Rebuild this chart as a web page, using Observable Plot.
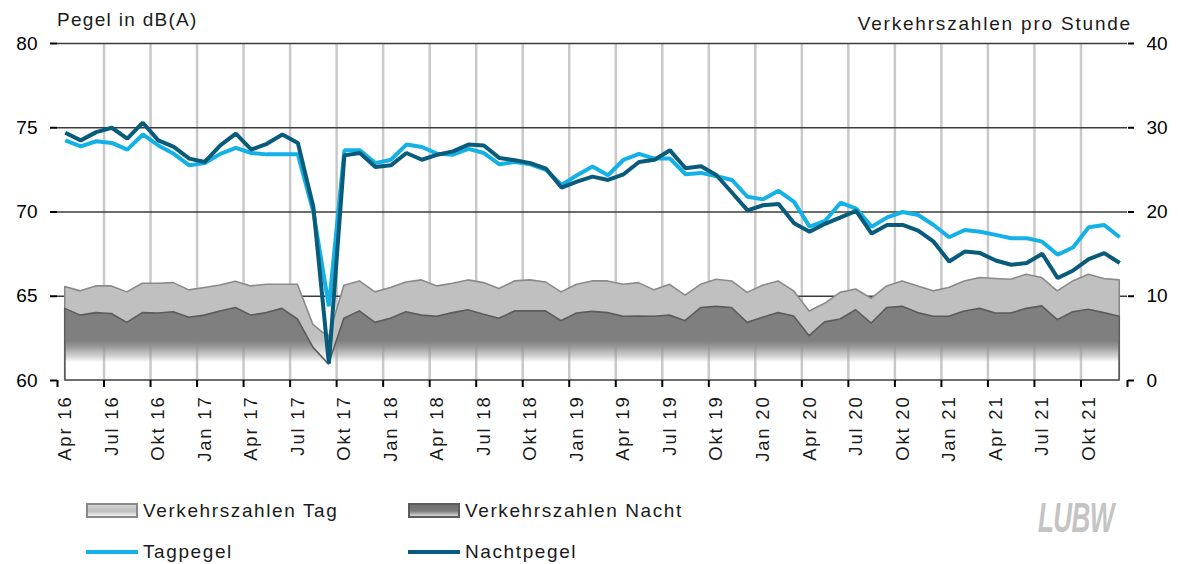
<!DOCTYPE html>
<html>
<head>
<meta charset="utf-8">
<script src="https://cdn.jsdelivr.net/npm/d3@7"></script>
<script src="https://cdn.jsdelivr.net/npm/@observablehq/plot@0.6"></script>
<style>
  body { margin: 0; background: #fff; font-family: "Liberation Sans", Arial, sans-serif; color: #1a1a1a; }
  #wrap { width: 1178px; position: relative; }
  #head { position: relative; height: 31px; }
  #head div { position: absolute; font-size: 19px; line-height: 15px; white-space: nowrap; }
  #leftTitle { left: 57px; top: 12px; letter-spacing: 1.3px; }
  #rightTitle { right: 46px; top: 16px; letter-spacing: 1.8px; }
  #legend { position: relative; height: 78px; }
  #legend .t { position: absolute; font-size: 19px; line-height: 19px; letter-spacing: 1.6px; white-space: nowrap; }
  #legend .box { position: absolute; width: 48px; height: 11px; }
  #legend .ln { position: absolute; width: 52px; height: 4px; }
  #logo { position: absolute; left: 1038px; top: 11px; font-size: 42px; line-height: 42px; font-weight: bold; font-style: italic;
          color: #c4c4c4; transform: scaleX(0.62); transform-origin: left top; letter-spacing: -1px; }
  svg g[aria-label="x-axis tick label"] text { letter-spacing: 1.8px; }
</style>
</head>
<body>
<div id="wrap">
  <div id="head">
    <div id="leftTitle">Pegel in dB(A)</div>
    <div id="rightTitle">Verkehrszahlen pro Stunde</div>
  </div>
  <div id="chart"></div>
  <div id="legend"></div>
</div>
<script>
// ---- data ----
const months = [
  "Apr 16","Mai 16","Jun 16","Jul 16","Aug 16","Sep 16","Okt 16","Nov 16","Dez 16",
  "Jan 17","Feb 17","Mrz 17","Apr 17","Mai 17","Jun 17","Jul 17","Aug 17","Sep 17","Okt 17","Nov 17","Dez 17",
  "Jan 18","Feb 18","Mrz 18","Apr 18","Mai 18","Jun 18","Jul 18","Aug 18","Sep 18","Okt 18","Nov 18","Dez 18",
  "Jan 19","Feb 19","Mrz 19","Apr 19","Mai 19","Jun 19","Jul 19","Aug 19","Sep 19","Okt 19","Nov 19","Dez 19",
  "Jan 20","Feb 20","Mrz 20","Apr 20","Mai 20","Jun 20","Jul 20","Aug 20","Sep 20","Okt 20","Nov 20","Dez 20",
  "Jan 21","Feb 21","Mrz 21","Apr 21","Mai 21","Jun 21","Jul 21","Aug 21","Sep 21","Okt 21","Nov 21","Dez 21"
];
// Pegel in dB(A)
const tagpegel = [
  74.25,73.9,74.2,74.1,73.7,74.6,73.95,73.45,72.77,
  72.9,73.45,73.8,73.5,73.42,73.42,73.42,70.0,64.4,73.66,73.66,72.9,
  73.1,74.0,73.86,73.45,73.4,73.75,73.5,72.83,72.97,72.83,72.5,71.6,
  72.18,72.7,72.18,73.1,73.45,73.17,73.17,72.24,72.32,72.12,71.9,70.9,
  70.75,71.26,70.6,69.13,69.48,70.55,70.2,69.13,69.68,70.0,69.82,69.23,
  68.5,68.93,68.83,68.64,68.44,68.44,68.24,67.46,67.91,69.1,69.23,68.5
];
const nachtpegel = [
  74.7,74.25,74.74,75.0,74.35,75.3,74.25,73.86,73.17,
  72.97,73.95,74.65,73.7,74.05,74.6,74.1,70.3,61.0,73.36,73.5,72.67,
  72.77,73.5,73.1,73.4,73.6,74.0,73.95,73.2,73.07,72.9,72.58,71.45,
  71.8,72.1,71.9,72.24,72.97,73.1,73.66,72.6,72.71,72.18,71.14,70.1,
  70.4,70.47,69.33,68.83,69.3,69.68,70.07,68.72,69.23,69.23,68.9,68.24,
  67.06,67.65,67.56,67.12,66.87,66.97,67.52,66.08,66.53,67.2,67.56,66.97
];
// Verkehrszahlen pro Stunde (right axis)
const verkehrTag = [
  11.1,10.58,11.17,11.17,10.46,11.48,11.48,11.56,10.7,
  10.98,11.28,11.72,11.17,11.36,11.36,11.36,6.6,5.1,11.25,11.76,10.46,
  10.98,11.64,11.88,11.17,11.48,11.88,11.56,10.86,11.76,11.88,11.64,10.46,
  11.36,11.76,11.76,11.36,11.56,10.7,11.36,10.08,11.36,11.96,11.76,10.4,
  11.25,11.76,10.58,8.2,9.1,10.4,10.8,9.7,11.17,11.76,11.17,10.58,
  10.98,11.76,12.16,12.04,11.96,12.56,12.16,10.58,11.76,12.56,12.04,11.88
];
const verkehrNacht = [
  8.5,7.7,8.0,7.9,6.84,8.0,7.95,8.1,7.44,
  7.7,8.2,8.6,7.7,8.0,8.5,7.24,3.9,1.9,7.32,8.2,6.84,
  7.32,8.1,7.7,7.56,8.0,8.34,7.8,7.32,8.2,8.2,8.2,7.04,
  7.95,8.15,8.0,7.56,7.6,7.56,7.7,7.04,8.6,8.74,8.6,6.84,
  7.44,8.0,7.6,5.26,6.9,7.24,8.34,6.76,8.6,8.74,8.0,7.56,
  7.56,8.2,8.5,7.95,7.95,8.5,8.8,7.17,8.1,8.4,8.0,7.56
];
const pegelTicks = [60, 65, 70, 75, 80];
const verkehrTicks = [0, 10, 20, 30, 40];

// ---- styles ----
const colTag = "#13b1e6";
const colNacht = "#085b7a";

// ---- build table ----
const toPegel = v => 60 + v / 2;          // right axis 0..40 -> left axis 60..80
const rows = months.map((m, i) => ({
  i, month: m, tag: tagpegel[i], nacht: nachtpegel[i],
  vTag: verkehrTag[i], vNacht: verkehrNacht[i]
}));
const labelIdx = months.map((m, i) => i).filter(i => i % 3 === 0);
const boundaries = labelIdx.map(i => i - 0.5).concat([months.length - 0.5]);
const innerBounds = boundaries.slice(1, -1);

const defsMark = (index, scales) => {
  const y = scales.y;
  const a = y(62.35), b = y(61.05);
  const defs = d3.create("svg:defs");
  const mk = (id, color) => {
    const g = defs.append("linearGradient").attr("id", id)
      .attr("gradientUnits", "userSpaceOnUse")
      .attr("x1", 0).attr("x2", 0).attr("y1", a).attr("y2", b);
    g.append("stop").attr("offset", 0).attr("stop-color", color).attr("stop-opacity", 1);
    g.append("stop").attr("offset", 0.5).attr("stop-color", color).attr("stop-opacity", 0.45);
    g.append("stop").attr("offset", 1).attr("stop-color", color).attr("stop-opacity", 0);
  };
  mk("gTag", "#c0c0c0");
  mk("gNacht", "#7f7f7f");
  return defs.node();
};

const chart = Plot.plot({
  width: 1178,
  height: 455,
  marginLeft: 57,
  marginRight: 51,
  marginTop: 12,
  marginBottom: 106,
  style: { fontFamily: "Liberation Sans, Arial, sans-serif", fontSize: "19px", color: "#1a1a1a", background: "white" },
  x: { type: "linear", domain: [-0.5, months.length - 0.5] },
  y: { domain: [60, 80] },
  marks: [
    defsMark,
    Plot.gridX({ ticks: innerBounds, stroke: "#c9c9c9", strokeOpacity: 1, strokeWidth: 2.5 }),
    Plot.gridY({ ticks: pegelTicks.slice(1), stroke: "#3c3c3c", strokeOpacity: 1, strokeWidth: 1.5 }),
    Plot.areaY(rows, { x: "i", y1: toPegel(0), y2: d => toPegel(d.vTag), fill: "url(#gTag)", stroke: "#8a8a8a", strokeWidth: 1.6 }),
    Plot.areaY(rows, { x: "i", y1: toPegel(0), y2: d => toPegel(d.vNacht), fill: "url(#gNacht)", stroke: "#5c5c5c", strokeWidth: 1.6 }),
    Plot.line(rows, { x: "i", y: "tag", stroke: colTag, strokeWidth: 4, strokeLinejoin: "miter", strokeLinecap: "butt" }),
    Plot.line(rows, { x: "i", y: "nacht", stroke: colNacht, strokeWidth: 4, strokeLinejoin: "miter", strokeLinecap: "butt" }),
    Plot.axisY({ anchor: "left", ticks: pegelTicks, tickSize: 7, tickPadding: 13, line: true, strokeWidth: 2, color: "black", fontSize: 19, label: null }),
    Plot.axisY({ anchor: "right", ticks: verkehrTicks.map(toPegel), tickFormat: d => String((d - 60) * 2), tickSize: 6, tickPadding: 13, line: true, strokeWidth: 2, color: "black", fontSize: 19, label: null }),
    Plot.axisX({ anchor: "bottom", ticks: boundaries, tickFormat: () => "", tickSize: 7, line: true, strokeWidth: 2, color: "black", label: null }),
    Plot.axisX({ anchor: "bottom", ticks: labelIdx, tickFormat: i => months[i], tickRotate: -90, tickSize: 0, tickPadding: 15, fontSize: 18.5, color: "#1a1a1a", label: null })
  ]
});
document.getElementById("chart").appendChild(chart);

// ---- legend (HTML, below the svg) ----
const legendItems = [
  { label: "Verkehrszahlen Tag", kind: "box", fill: "linear-gradient(#d2d2d2 0%, #bdbdbd 55%, #f2f2f2 100%)", border: "#8a8a8a", x: 86, row: 0 },
  { label: "Verkehrszahlen Nacht", kind: "box", fill: "linear-gradient(#6e6e6e 0%, #7a7a7a 55%, #d8d8d8 100%)", border: "#5c5c5c", x: 408, row: 0 },
  { label: "Tagpegel", kind: "line", color: colTag, x: 86, row: 1 },
  { label: "Nachtpegel", kind: "line", color: colNacht, x: 408, row: 1 }
];
const leg = document.getElementById("legend");
legendItems.forEach(it => {
  const top = it.row === 0 ? 15 : 56;
  if (it.kind === "box") {
    const b = document.createElement("div");
    b.className = "box";
    b.style.left = it.x + "px";
    b.style.top = (top + 2) + "px";
    b.style.background = it.fill;
    b.style.border = "2px solid " + it.border;
    leg.appendChild(b);
  } else {
    const l = document.createElement("div");
    l.className = "ln";
    l.style.left = it.x + "px";
    l.style.top = (top + 8) + "px";
    l.style.background = it.color;
    leg.appendChild(l);
  }
  const t = document.createElement("div");
  t.className = "t";
  t.style.left = (it.x + 57) + "px";
  t.style.top = top + "px";
  t.textContent = it.label;
  leg.appendChild(t);
});
const logo = document.createElement("div");
logo.id = "logo";
logo.textContent = "LUBW";
leg.appendChild(logo);
</script>
</body>
</html>
